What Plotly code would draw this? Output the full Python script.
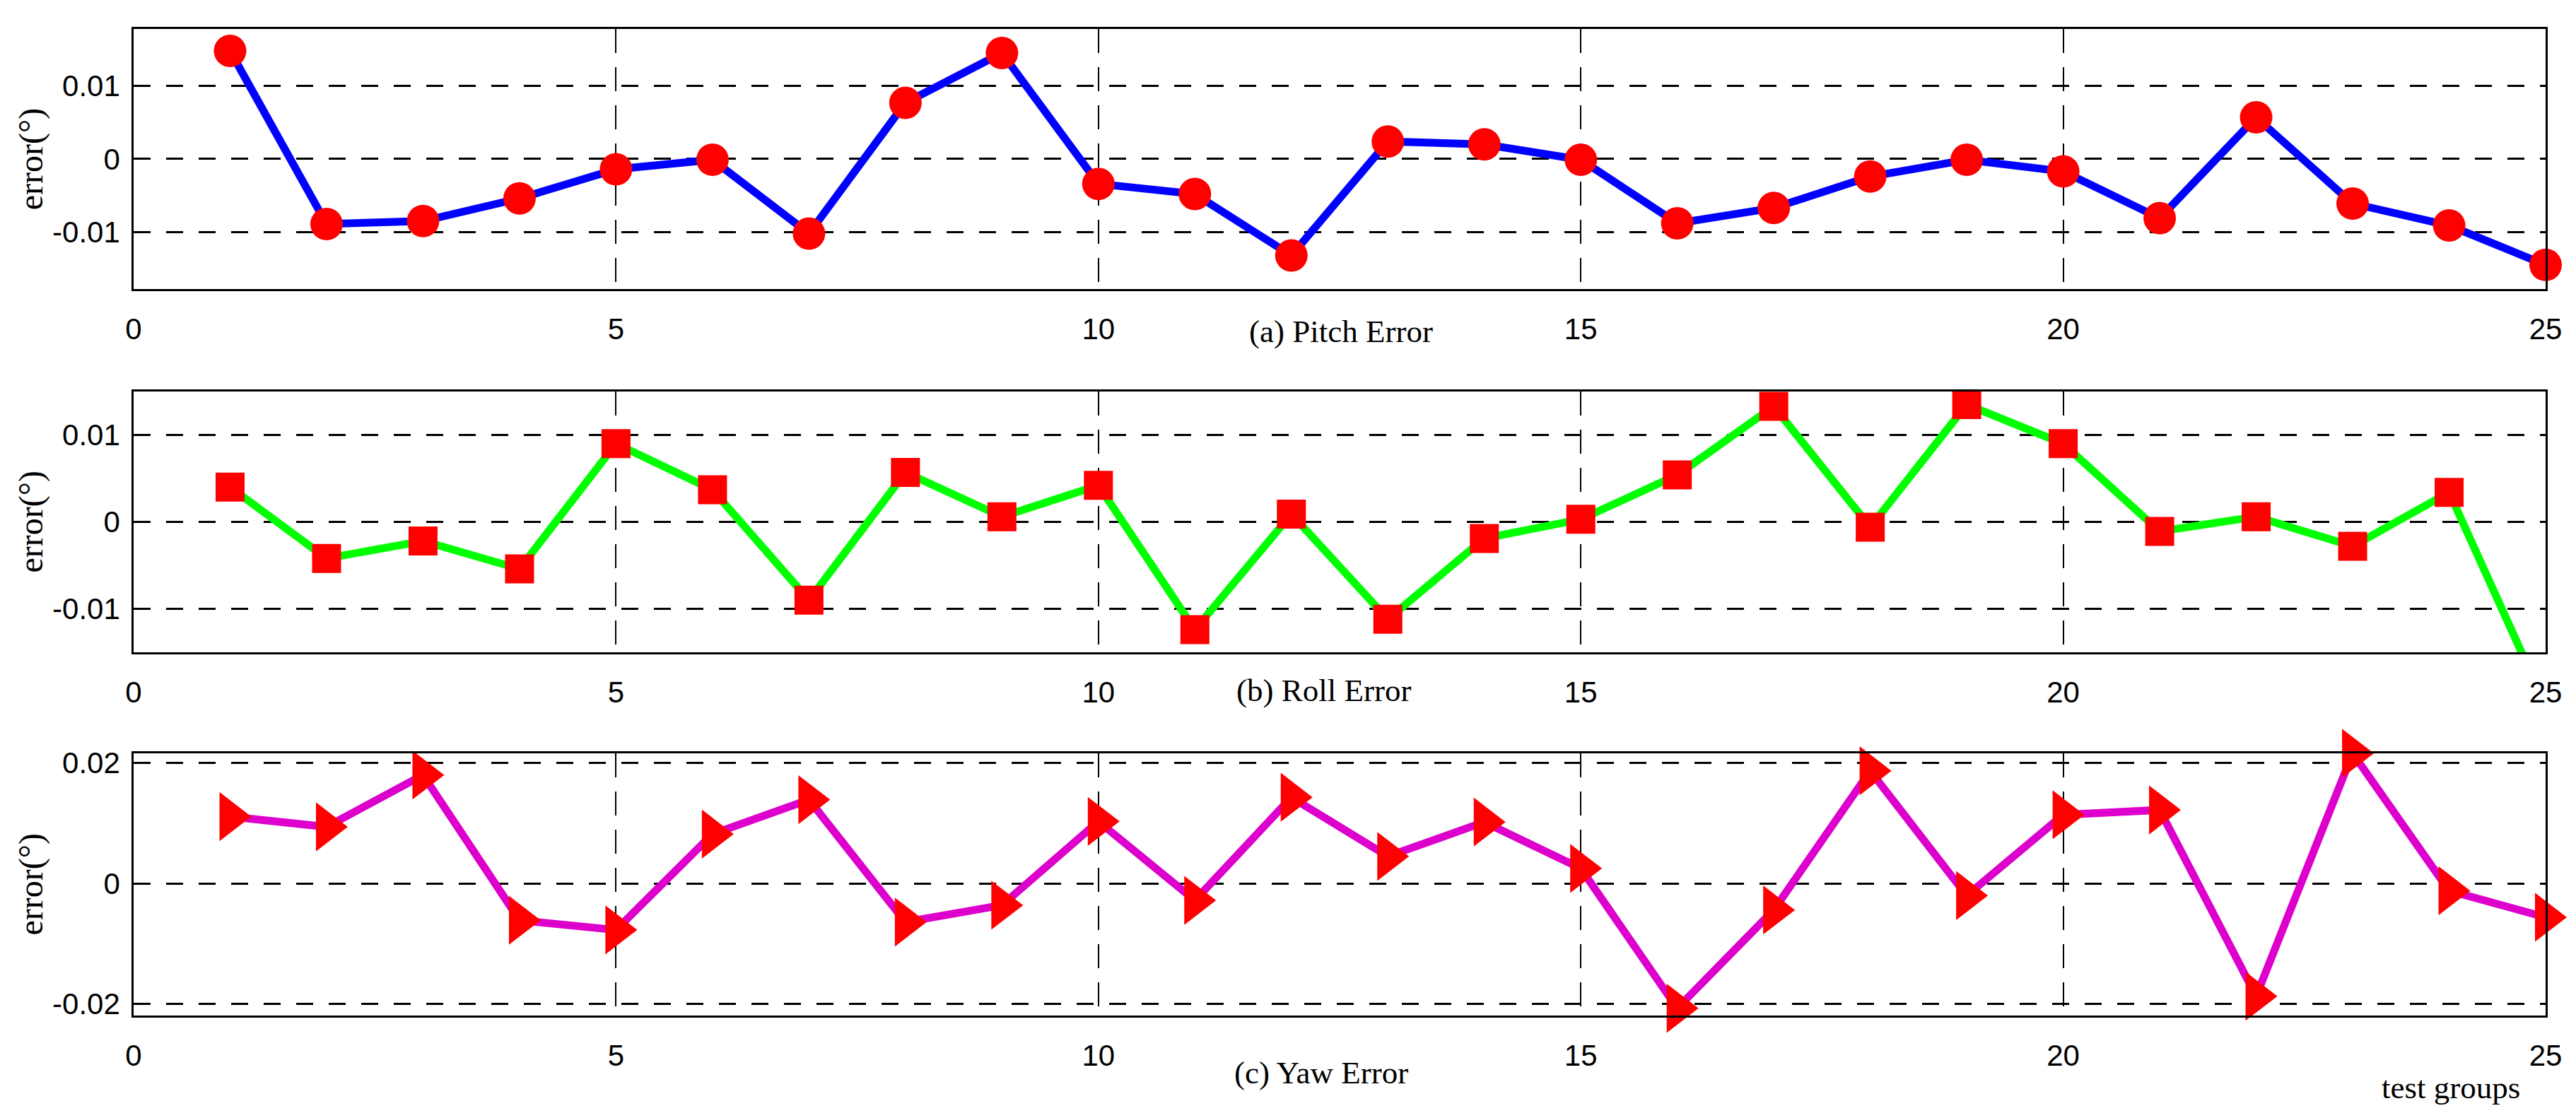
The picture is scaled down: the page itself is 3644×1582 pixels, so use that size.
import plotly.graph_objects as go

# values
groups = list(range(1, 26))
pitch_err = [0.0148, -0.0089, -0.0085, -0.0054, -0.0014, -0.0001, -0.0102, 0.0077,
             0.0145, -0.0034, -0.0048, -0.0132, 0.0024, 0.0020, -0.0001, -0.0088,
             -0.0067, -0.0024, -0.0001, -0.0017, -0.0081, 0.0057, -0.0061, -0.0091,
             -0.0145]
roll_err = [0.0040, -0.0042, -0.0022, -0.0054, 0.0090, 0.0037, -0.0090, 0.0057,
            0.0006, 0.0042, -0.0124, 0.0009, -0.0112, -0.0019, 0.0003, 0.0054,
            0.0133, -0.0006, 0.0135, 0.0090, -0.0011, 0.0006, -0.0028, 0.0034,
            -0.0211]
yaw_err = [0.0111, 0.0094, 0.0180, -0.0061, -0.0077, 0.0082, 0.0139, -0.0064,
           -0.0036, 0.0103, -0.0028, 0.0143, 0.0045, 0.0102, 0.0025, -0.0207,
           -0.0044, 0.0187, -0.0020, 0.0114, 0.0122, -0.0187, 0.0216, -0.0012,
           -0.0056]

x_ticks = [0, 5, 10, 15, 20, 25]
y_ticks_ab = [-0.01, 0, 0.01]
y_ticks_c = [-0.02, 0, 0.02]
y_labels_ab = ["-0.01", "0", "0.01"]
y_labels_c = ["-0.02", "0", "0.02"]
panel_titles = ["(a) Pitch Error", "(b) Roll Error", "(c) Yaw Error"]

panels = [
    # data, line colour, marker symbol, marker size, y range, ticks, labels
    (pitch_err, "#0000ff", "circle", 46, [-0.0178, 0.0178], y_ticks_ab, y_labels_ab),
    (roll_err, "#00ff00", "square", 41, [-0.015, 0.015], y_ticks_ab, y_labels_ab),
    (yaw_err, "#dd00cc", "triangle-right", 60, [-0.0219, 0.0216], y_ticks_c, y_labels_c),
]
domains = [[0.7364, 1.0], [0.3682, 0.6325], [0.0, 0.2658]]

fig = go.Figure()
layout = {}
for i, (vals, col, sym, msize, yr, yt, yl) in enumerate(panels):
    n = "" if i == 0 else str(i + 1)
    # line (clipped to the axes)
    fig.add_trace(go.Scatter(
        x=groups, y=vals, mode="lines", xaxis="x" + n, yaxis="y" + n,
        line=dict(color=col, width=11), showlegend=False, hoverinfo="skip"))
    # markers only for points inside the y range, drawn unclipped like MATLAB
    shown = [v if yr[0] <= v <= yr[1] else None for v in vals]
    fig.add_trace(go.Scatter(
        x=groups, y=shown, mode="markers", xaxis="x" + n, yaxis="y" + n,
        marker=dict(symbol=sym, size=msize, color="#ff0000", line=dict(width=0)),
        cliponaxis=False, showlegend=False))

    layout["xaxis" + n] = dict(
        domain=[0, 1], anchor="y" + n, range=[0, 25],
        tickmode="array", tickvals=x_ticks, ticktext=[str(t) for t in x_ticks],
        showgrid=True, gridcolor="black", gridwidth=1.5, griddash="34px,20px",
        zeroline=False, showline=True, linecolor="black", linewidth=2.5, mirror=True,
        ticks="", ticklabelstandoff=18,
        tickfont=dict(family="Liberation Sans, Arial, sans-serif", size=42, color="black"))
    layout["yaxis" + n] = dict(
        domain=domains[i], anchor="x" + n, range=yr,
        tickmode="array", tickvals=yt, ticktext=yl,
        showgrid=True, gridcolor="black", gridwidth=2.5, griddash="24px,22px",
        zeroline=False, showline=True, linecolor="black", linewidth=2.5, mirror=True,
        ticks="", ticklabelstandoff=8,
        tickfont=dict(family="Liberation Sans, Arial, sans-serif", size=42, color="black"))

serif = "Liberation Serif, Times New Roman, serif"
title_pos = [(0.5006, 0.6934), (0.4933, 0.3295), (0.4924, -0.058)]
ylab_pos = [0.868, 0.5004, 0.1329]
annotations = []
for txt, (ax_, ay_) in zip(panel_titles, title_pos):
    annotations.append(dict(text=txt, x=ax_, y=ay_, xref="paper", yref="paper",
                            xanchor="center", yanchor="middle", showarrow=False,
                            font=dict(family=serif, size=45, color="black")))
for ay_ in ylab_pos:
    annotations.append(dict(text="error(°)", x=-0.0425, y=ay_, xref="paper", yref="paper",
                            xanchor="center", yanchor="middle", showarrow=False,
                            textangle=-90,
                            font=dict(family=serif, size=48, color="black")))
annotations.append(dict(text="test groups", x=0.9607, y=-0.0731, xref="paper", yref="paper",
                        xanchor="center", yanchor="middle", showarrow=False,
                        font=dict(family=serif, size=45, color="black")))

fig.update_layout(
    width=3644, height=1582,
    margin=dict(l=189, r=43, t=41, b=145),
    paper_bgcolor="white", plot_bgcolor="white",
    annotations=annotations,
    **layout)

fig.write_html("out.html", config={"displayModeBar": False},
               post_script="document.body.style.margin='0';")
